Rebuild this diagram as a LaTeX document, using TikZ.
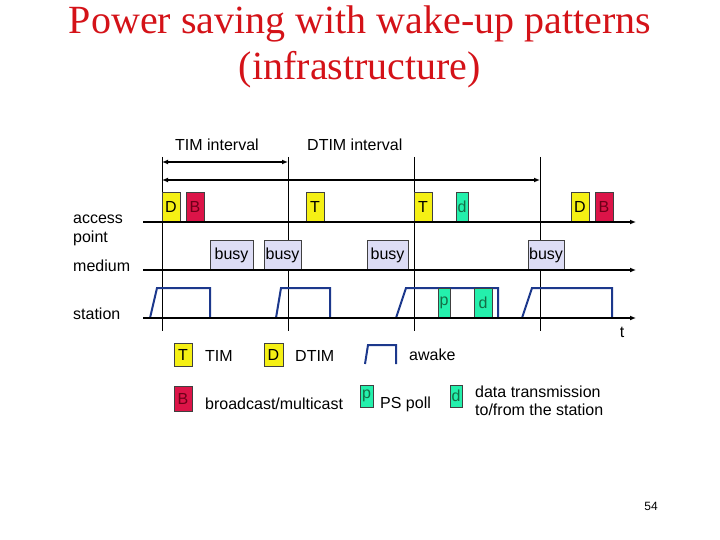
\documentclass[tikz,border=0pt]{standalone}
\usepackage{fontspec}
\setmainfont{Liberation Sans}
\newfontfamily\titlefont{Liberation Serif}
\usetikzlibrary{arrows.meta}

\definecolor{titlered}{RGB}{212,18,24}
\definecolor{timyellow}{RGB}{245,240,20}
\definecolor{bcred}{RGB}{220,20,72}
\definecolor{bctext}{RGB}{110,0,24}
\definecolor{datagreen}{RGB}{36,240,172}
\definecolor{datatext}{RGB}{20,110,70}
\definecolor{busyblue}{RGB}{221,221,245}
\definecolor{pulseblue}{RGB}{28,56,140}

\tikzset{
    slot/.style={draw=black!75, line width=0.6pt, inner sep=0, minimum height=30pt},
    timslot/.style={slot, fill=timyellow, minimum width=18pt},
    bcslot/.style={slot, fill=bcred, text=bctext, minimum width=18pt},
    dataslot/.style={slot, fill=datagreen, text=datatext},
    busyslot/.style={slot, fill=busyblue},
    pulse/.style={draw=pulseblue, line width=2pt},
    timeline/.style={line width=2pt, -{Latex[length=6pt, width=5pt]}},
}

\begin{document}
\begin{tikzpicture}[x=1pt, y=-1pt, font=\fontsize{16}{19}\selectfont]
    \useasboundingbox (0,0) rectangle (720,540);

    % title
    \begin{scope}[every node/.style={anchor=base, text=titlered, font=\titlefont\fontsize{40}{46}\selectfont}]
        \node (title1) at (360,34) {Power saving with wake-up patterns};
        \node (title2) at (360,80) {(infrastructure)};
    \end{scope}

    % labels
    \begin{scope}[every node/.style={anchor=base west, inner sep=0}]
        \node (lap1) at (73,223) {access};
        \node (lap2) at (73,242) {point};
        \node (lmed) at (73,271) {medium};
        \node (lsta) at (73,319) {station};
        \node (ltim) at (175,151) {TIM interval};
        \node (ldtim) at (307,151) {DTIM interval};
    \end{scope}
    \node[anchor=base] (lt) at (622,337) {t};

    % beacon borders
    \foreach \x [count=\i] in {162,288,414,540} {
        \coordinate (v\i a) at (\x,157);
        \coordinate (v\i b) at (\x,331);
        \draw[line width=0.8pt] (v\i a) -- (v\i b);
    }
    \draw[line width=2pt, {Latex[length=6pt, width=5pt]}-{Latex[length=6pt, width=5pt]}] (162,162) coordinate (tim0) -- (288,162) coordinate (tim1);
    \draw[line width=2pt, {Latex[length=6pt, width=5pt]}-{Latex[length=6pt, width=5pt]}] (162,180) coordinate (dtim0) -- (540,180) coordinate (dtim1);

    % awake periods
    \foreach \a/\b/\c in {150/157/210, 276/281/330, 396/406/498, 522/532/612}
        \draw[pulse] (\a,318) -- (\b,288) -- (\c,288) -- (\c,318);

    % access point
    \node[timslot] (apD1) at (171,207) {D};
    \node[bcslot] (apB1) at (195,207) {B};
    \node[timslot] (apT1) at (315,207) {T};
    \node[timslot] (apT2) at (423,207) {T};
    \node[dataslot, minimum width=12pt] (apd) at (462,207) {d};
    \node[timslot] (apD2) at (580,207) {D};
    \node[bcslot] (apB2) at (604,207) {B};

    % medium
    \node[busyslot, minimum width=43pt] (busy1) at (231.5,255) {busy};
    \node[busyslot, minimum width=37pt] (busy2) at (282.5,255) {busy};
    \node[busyslot, minimum width=41pt] (busy3) at (387.5,255) {busy};
    \node[busyslot, minimum width=36pt] (busy4) at (546,255) {busy};

    % station
    \node[dataslot, minimum width=12pt] (stp) at (444,303) {p};
    \node[dataslot, minimum width=18pt] (std) at (483,303) {d};

    % time axes
    \coordinate (ap0) at (143,222);
    \coordinate (ap1) at (636,222);
    \coordinate (md0) at (143,270);
    \coordinate (md1) at (636,270);
    \coordinate (st0) at (143,318);
    \coordinate (st1) at (636,318);
    \draw[timeline] (ap0) -- (ap1);
    \draw[timeline] (md0) -- (md1);
    \draw[timeline] (st0) -- (st1);

    % legend
    \node[timslot, minimum height=23pt] (keyT) at (183,354.5) {T};
    \node[timslot, minimum height=23pt, minimum width=19pt] (keyD) at (273.5,354.5) {D};
    \node[bcslot, minimum height=25pt] (keyB) at (183,398.5) {B};
    \node[dataslot, minimum height=22pt, minimum width=13pt] (keyp) at (366.5,396) {p};
    \node[dataslot, minimum height=22pt, minimum width=12pt] (keyd) at (456,396) {d};
    \draw[pulse] (365,364) -- (368,345) -- (396,345) -- (396,364);
    \begin{scope}[every node/.style={anchor=base west, inner sep=0}]
        \node (ktim) at (205,361) {TIM};
        \node (kdtim) at (295,361) {DTIM};
        \node (kawake) at (409,360) {awake};
        \node (kbc) at (205,409) {broadcast/multicast};
        \node (kps) at (380,408) {PS poll};
        \node (kdata1) at (475,397) {data transmission};
        \node (kdata2) at (475,415) {to/from the station};
    \end{scope}

    \node[anchor=base, font=\fontsize{12}{14}\selectfont] (pgnum) at (651,510) {54};
\end{tikzpicture}
\end{document}
